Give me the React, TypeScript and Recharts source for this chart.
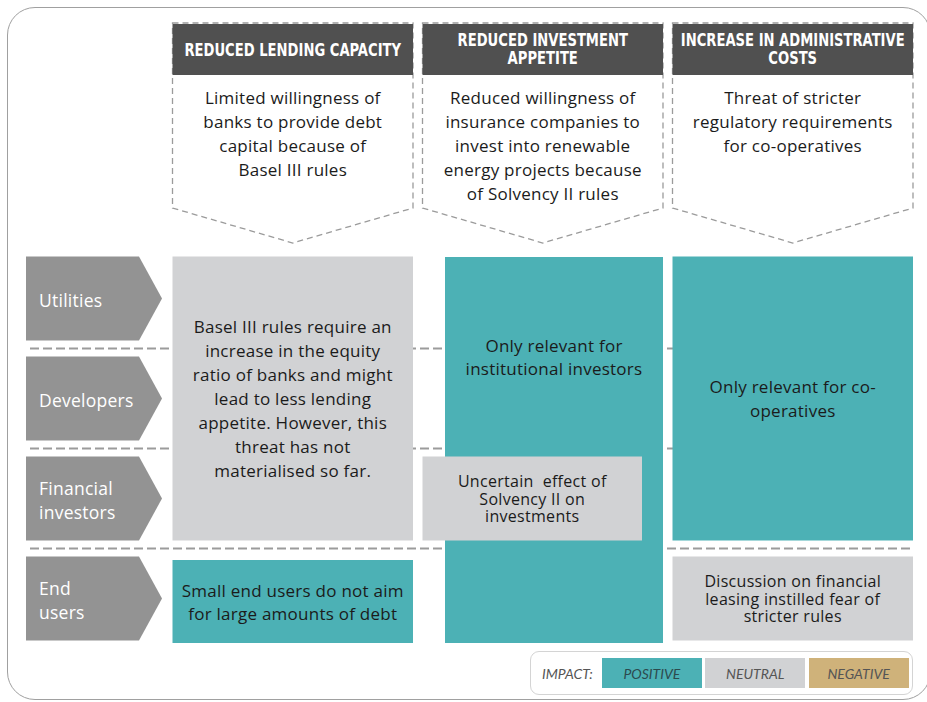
import React from 'react';
import { ComposedChart, XAxis, YAxis, ReferenceArea, Legend } from 'recharts';

// Impact matrix: threats (columns) x actor groups (rows)
const ROW_LABELS = [['Utilities'], ['Developers'], ['Financial', 'investors'], ['End', 'users']];

const HEADER_LINES = [
  ['REDUCED LENDING CAPACITY'],
  ['REDUCED INVESTMENT', 'APPETITE'],
  ['INCREASE IN ADMINISTRATIVE', 'COSTS'],
];

const THREAT_LINES = [
  ['Limited willingness of', 'banks to provide debt', 'capital because of', 'Basel III rules'],
  ['Reduced willingness of', 'insurance companies to', 'invest into renewable', 'energy projects because', 'of Solvency II rules'],
  ['Threat of stricter', 'regulatory requirements', 'for co-operatives'],
];

const IMPACT_LEVELS = ['POSITIVE', 'NEUTRAL', 'NEGATIVE'];

// col = threat column, from/to = first/last actor row, textTo = text centred above this row
const CELLS = [
  {
    col: 0, from: 0, to: 2, impact: 'NEUTRAL',
    lines: ['Basel III rules require an', 'increase in the equity', 'ratio of banks and might', 'lead to less lending', 'appetite. However, this', 'threat has not', 'materialised so far.'],
  },
  { col: 0, from: 3, to: 3, impact: 'POSITIVE', lines: ['Small end users do not aim', 'for large amounts of debt'] },
  { col: 1, from: 0, to: 3, impact: 'POSITIVE', lines: ['Only relevant for', 'institutional investors'], textTo: 2 },
  { col: 1, from: 2, to: 2, impact: 'NEUTRAL', lines: ['Uncertain  effect of', 'Solvency II on', 'investments'] },
  { col: 2, from: 0, to: 2, impact: 'POSITIVE', lines: ['Only relevant for co-', 'operatives'] },
  { col: 2, from: 3, to: 3, impact: 'NEUTRAL', lines: ['Discussion on financial', 'leasing instilled fear of', 'stricter rules'] },
];

// layout tweaks in px per cell (left, right, top, bottom) + text size
const CELL_BOX = [
  { l: 0, r: 0, t: 0, b: 0, fs: 17, lh: 24 },
  { l: 0, r: 0, t: 3.5, b: 2.5, fs: 17, lh: 23 },
  { l: 22.5, r: 0, t: 0.5, b: 2.5, fs: 17, lh: 23.5 },
  { l: 0, r: -21, t: 0, b: 0, fs: 16, lh: 17.5 },
  { l: 0, r: 0, t: 0, b: 0, fs: 17, lh: 24 },
  { l: 0, r: 0, t: 0, b: 0, fs: 16, lh: 17.5 },
];

const COLORS = {
  POSITIVE: '#4cb1b5',
  NEUTRAL: '#d1d2d4',
  NEGATIVE: '#cfb27a',
  header: '#505050',
  arrow: '#939393',
  dash: '#9b9b9b',
  text: '#1b1b1b',
};

const FONT = '"Open Sans", "Noto Sans", sans-serif';
const LEGEND_FONT = 'Lato, "Open Sans", sans-serif';
const HEAD_FONT = '"Liberation Sans Narrow", "DejaVu Sans Condensed", sans-serif';

// axis units: one column = 250px, one row = 100px
const UX = 1 / 250;
const UY = 1 / 100;
const COL_W = 0.962;
const ROW_H = 0.84;

const textLines = (lines: string[], cx: number, cy: number, lh: number, style: any, anchor = 'middle') => (
  <text textAnchor={anchor} style={{ whiteSpace: 'pre', ...style }}>
    {lines.map((ln, i) => (
      <tspan key={i} x={cx} y={cy + (i - (lines.length - 1) / 2) * lh} dominantBaseline="central">
        {ln}
      </tspan>
    ))}
  </text>
);

const bodyText = (fs: number, fill = COLORS.text) => ({
  fill,
  fontFamily: FONT,
  fontSize: fs,
  letterSpacing: fs >= 17 ? 0.25 : 0.3,
});

const rowArrow = (lines: string[]) => (p: any) => {
  const { x, y, width, height } = p;
  const tip = 23;
  const d = `M${x},${y} L${x + width - tip},${y} L${x + width},${y + height / 2} L${x + width - tip},${y + height} L${x},${y + height} Z`;
  return (
    <g>
      <path d={d} fill={COLORS.arrow} />
      {textLines(lines, x + 13, y + height / 2 + 1, 24, bodyText(17.5, '#fff'), 'start')}
    </g>
  );
};

const separator = (p: any) => {
  const { x, y, width, height } = p;
  const my = y + height / 2;
  return <line x1={x} x2={x + width} y1={my} y2={my} stroke={COLORS.dash} strokeWidth={2} strokeDasharray="9 4" />;
};

const threatShape = (head: string[], desc: string[]) => (p: any) => {
  const { x, y, width, height } = p;
  const side = height - 35;
  const cx = x + width / 2;
  const d = `M${x},${y} L${x + width},${y} L${x + width},${y + side} L${cx},${y + height} L${x},${y + side} Z`;
  const headY = head.length > 1 ? y + 26 : y + 27;
  return (
    <g>
      <path d={d} fill="#fff" stroke={COLORS.dash} strokeWidth={1.3} strokeDasharray="6 4" />
      <rect x={x} y={y + 1} width={width} height={51} fill={COLORS.header} />
      <g transform={`translate(${cx},0) scale(0.86,1) translate(${-cx},0)`}>
        {textLines(head, cx, headY, 17.5, { fill: '#fff', fontFamily: HEAD_FONT, fontSize: 17, fontWeight: 700 })}
      </g>
      {textLines(desc, cx, y + 74 + ((desc.length - 1) * 24) / 2, 24, bodyText(17))}
    </g>
  );
};

const cellShape = (cell: any, box: any) => (p: any) => {
  const { x, y, width, height } = p;
  let cy = y + height / 2;
  if (cell.textTo != null) cy = y + ((cell.textTo - cell.from) * 100) / 2;
  return (
    <g>
      <rect x={x} y={y} width={width} height={height} fill={COLORS[cell.impact]} />
      {textLines(cell.lines, x + width / 2, cy, box.lh, bodyText(box.fs))}
    </g>
  );
};

const ImpactLegend = () => (
  <div
    style={{
      width: 383,
      height: 44,
      boxSizing: 'border-box',
      border: '1.5px solid #d4d4d4',
      borderRadius: 9,
      display: 'flex',
      alignItems: 'center',
      paddingLeft: 11,
      fontFamily: LEGEND_FONT,
      fontStyle: 'italic',
      fontSize: 14,
      color: '#555',
      background: '#fff',
    }}
  >
    <span style={{ width: 60 }}>IMPACT:</span>
    {IMPACT_LEVELS.map((lvl) => (
      <div
        key={lvl}
        style={{
          width: 100,
          height: 30,
          marginRight: 3.5,
          background: COLORS[lvl],
          display: 'flex',
          alignItems: 'center',
          justifyContent: 'center',
          color: lvl === 'POSITIVE' ? '#2c4a4e' : '#555',
        }}
      >
        {lvl}
      </div>
    ))}
  </div>
);

export default function App() {
  return (
    <div style={{ position: 'fixed', left: 0, top: 0, width: 927, height: 702, background: '#fff', overflow: 'hidden' }}>
      <div
        style={{
          position: 'absolute',
          left: 7,
          top: 7,
          width: 924,
          height: 693,
          boxSizing: 'border-box',
          border: '1.5px solid #a0a0a0',
          borderRadius: 28,
        }}
      />
      <ComposedChart width={927} height={702} data={[]} margin={{ top: 0, right: 0, bottom: 0, left: 0 }}>
        <XAxis type="number" dataKey="x" domain={[-0.69, 3.018]} hide allowDataOverflow />
        <YAxis type="number" dataKey="y" domain={[-2.565, 4.455]} reversed hide allowDataOverflow />

        {[0, 1, 2].map((r) => (
          <ReferenceArea
            key={`sep-${r}`}
            x1={-0.57}
            x2={2.962}
            y1={r + 0.91}
            y2={r + 0.93}
            ifOverflow="visible"
            shape={separator}
          />
        ))}

        {HEADER_LINES.map((head, c) => (
          <ReferenceArea
            key={`threat-${c}`}
            x1={c}
            x2={c + COL_W}
            y1={-2.335}
            y2={-0.135}
            ifOverflow="visible"
            shape={threatShape(head, THREAT_LINES[c])}
          />
        ))}

        {ROW_LABELS.map((lines, r) => (
          <ReferenceArea
            key={`row-${r}`}
            x1={-0.586}
            x2={-0.042}
            y1={r}
            y2={r + ROW_H}
            ifOverflow="visible"
            shape={rowArrow(lines)}
          />
        ))}

        {CELLS.map((cell, i) => {
          const b = CELL_BOX[i];
          return (
            <ReferenceArea
              key={`cell-${i}`}
              x1={cell.col + b.l * UX}
              x2={cell.col + COL_W + b.r * UX}
              y1={cell.from + b.t * UY}
              y2={cell.to + ROW_H + b.b * UY}
              ifOverflow="visible"
              shape={cellShape(cell, b)}
            />
          );
        })}

        <Legend
          layout="horizontal"
          verticalAlign="middle"
          align="center"
          wrapperStyle={{ left: 530, top: 651, width: 383, height: 44 }}
          content={() => <ImpactLegend />}
        />
      </ComposedChart>
    </div>
  );
}
